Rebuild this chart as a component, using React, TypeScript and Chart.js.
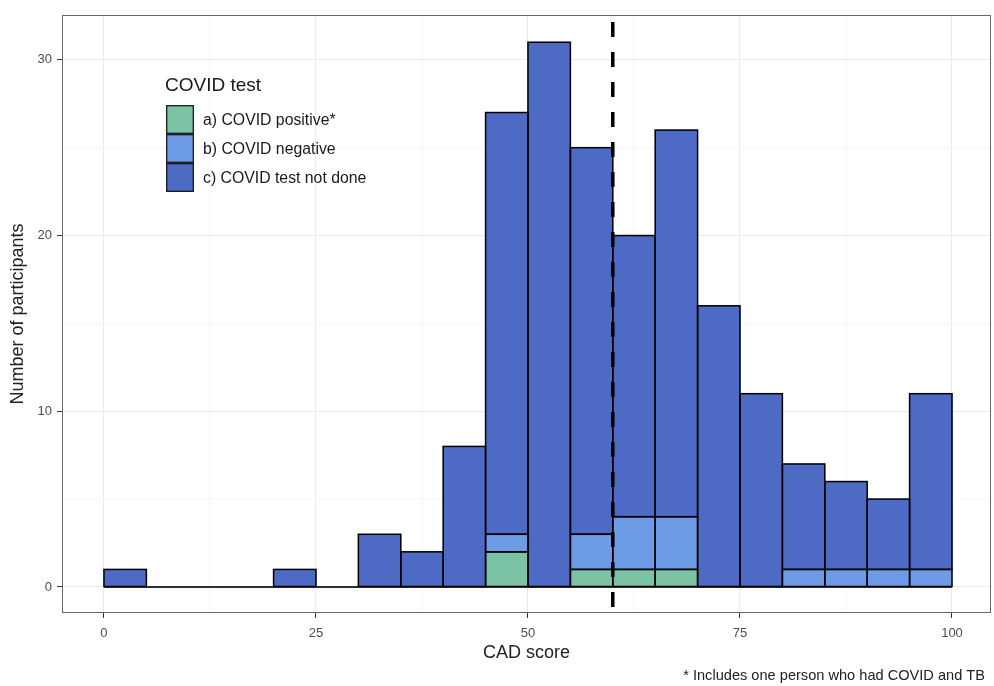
import React, { useEffect, useRef } from 'react';
import { Chart, registerables } from 'chart.js';

Chart.register(...registerables);

// ---- data ----
const binCenters = [2.5, 7.5, 12.5, 17.5, 22.5, 27.5, 32.5, 37.5, 42.5, 47.5, 52.5, 57.5, 62.5, 67.5, 72.5, 77.5, 82.5, 87.5, 92.5, 97.5];
const positive = [0, 0, 0, 0, 0, 0, 0, 0, 0, 2, 0, 1, 1, 1, 0, 0, 0, 0, 0, 0];
const negative = [0, 0, 0, 0, 0, 0, 0, 0, 0, 1, 0, 2, 3, 3, 0, 0, 1, 1, 1, 1];
const notDone = [1, 0, 0, 0, 1, 0, 3, 2, 8, 24, 31, 22, 16, 22, 16, 11, 6, 5, 4, 10];
const seriesLabels = ['a) COVID positive*', 'b) COVID negative', 'c) COVID test not done'];
const xTicks = [0, 25, 50, 75, 100];
const yTicks = [0, 10, 20, 30];
const xMinorGrid = [12.5, 37.5, 62.5, 87.5];
const yMinorGrid = [5, 15, 25];
const cutoffScore = 60;
const histRange = [0, 100];
const legendTitle = 'COVID test';
const xTitle = 'CAD score';
const yTitle = 'Number of participants';
const footnote = '* Includes one person who had COVID and TB';

// ---- styles ----
const FONT = '"Liberation Sans", Arial, Helvetica, sans-serif';
const seriesColors = ['#7cc3a6', '#6e9be6', '#4d6ac4'];

const drawPlugin = {
  id: 'ggDecor',
  beforeDatasetsDraw(chart: any) {
    const { ctx, chartArea, scales } = chart;
    const x = scales.x, y = scales.y;
    ctx.save();
    ctx.strokeStyle = '#f5f5f5';
    ctx.lineWidth = 1;
    xMinorGrid.forEach((v) => {
      const px = x.getPixelForValue(v);
      ctx.beginPath();
      ctx.moveTo(px, chartArea.top);
      ctx.lineTo(px, chartArea.bottom);
      ctx.stroke();
    });
    yMinorGrid.forEach((v) => {
      const py = y.getPixelForValue(v);
      ctx.beginPath();
      ctx.moveTo(chartArea.left, py);
      ctx.lineTo(chartArea.right, py);
      ctx.stroke();
    });
    ctx.restore();
  },
  afterDatasetsDraw(chart: any) {
    const { ctx, chartArea, scales } = chart;
    const x = scales.x, y = scales.y;
    ctx.save();
    // bar outlines
    ctx.strokeStyle = '#000';
    ctx.lineWidth = 1.5;
    ctx.lineJoin = 'miter';
    chart.data.datasets.forEach((_: any, di: number) => {
      const meta = chart.getDatasetMeta(di);
      meta.data.forEach((el: any) => {
        const p = el.getProps(['x', 'y', 'base', 'width'], true);
        const h = p.base - p.y;
        if (Math.abs(h) < 0.01) return;
        ctx.strokeRect(p.x - p.width / 2, p.y, p.width, h);
      });
    });
    // zero-count baseline of the histogram
    const y0 = y.getPixelForValue(0);
    ctx.beginPath();
    ctx.moveTo(x.getPixelForValue(histRange[0]), y0);
    ctx.lineTo(x.getPixelForValue(histRange[1]), y0);
    ctx.stroke();
    // dashed cutoff line
    const vx = x.getPixelForValue(cutoffScore);
    ctx.lineWidth = 3.5;
    ctx.setLineDash([15, 15]);
    ctx.lineDashOffset = 23;
    ctx.beginPath();
    ctx.moveTo(vx, chartArea.top);
    ctx.lineTo(vx, chartArea.bottom);
    ctx.stroke();
    ctx.setLineDash([]);
    // panel border
    ctx.strokeStyle = '#666';
    ctx.lineWidth = 1;
    ctx.strokeRect(chartArea.left + 0.5, chartArea.top + 0.5, chartArea.right - chartArea.left - 1, chartArea.bottom - chartArea.top - 1);
    ctx.restore();
  },
  afterDraw(chart: any) {
    const { ctx, chartArea } = chart;
    ctx.save();
    // axis titles
    ctx.fillStyle = '#222';
    ctx.font = `18px ${FONT}`;
    ctx.textAlign = 'center';
    ctx.textBaseline = 'middle';
    ctx.fillText(xTitle, (chartArea.left + chartArea.right) / 2, 653);
    ctx.save();
    ctx.translate(18, (chartArea.top + chartArea.bottom) / 2);
    ctx.rotate(-Math.PI / 2);
    ctx.fillText(yTitle, 0, 0);
    ctx.restore();
    // footnote
    ctx.font = `14.6px ${FONT}`;
    ctx.textAlign = 'right';
    ctx.fillStyle = '#222';
    ctx.fillText(footnote, 985, 676);
    // legend
    ctx.textAlign = 'left';
    ctx.fillStyle = '#1a1a1a';
    ctx.font = `19px ${FONT}`;
    ctx.fillText(legendTitle, 165, 86);
    const keyX = 166, keyW = 28, keyTop = 105, keyH = 29;
    seriesLabels.forEach((lab, i) => {
      const ky = keyTop + i * keyH;
      ctx.fillStyle = seriesColors[i];
      ctx.fillRect(keyX, ky, keyW, keyH);
      ctx.strokeStyle = '#1a1a1a';
      ctx.lineWidth = 1.3;
      ctx.strokeRect(keyX + 0.7, ky + 0.7, keyW - 1.4, keyH - 1.4);
      ctx.fillStyle = '#1a1a1a';
      ctx.font = `15.8px ${FONT}`;
      ctx.fillText(lab, 203, ky + keyH / 2 + 1);
    });
    ctx.restore();
  },
};

export default function App() {
  const canvasRef = useRef<HTMLCanvasElement | null>(null);

  useEffect(() => {
    const canvas = canvasRef.current;
    if (!canvas) return;
    const series = [positive, negative, notDone];
    const chart = new Chart(canvas, {
      type: 'bar',
      data: {
        datasets: series.map((vals, i) => ({
          label: seriesLabels[i],
          data: binCenters.map((c, j) => ({ x: c, y: vals[j] })),
          backgroundColor: seriesColors[i],
          borderWidth: 0,
          barPercentage: 1,
          categoryPercentage: 1,
        })),
      },
      options: {
        animation: false,
        responsive: false,
        maintainAspectRatio: false,
        devicePixelRatio: 1,
        layout: { padding: { left: 0, top: 15, right: 3, bottom: 0 } },
        plugins: {
          legend: { display: false },
          tooltip: { enabled: false },
          title: { display: false },
        },
        scales: {
          x: {
            type: 'linear',
            stacked: true,
            offset: false,
            min: -4.95,
            max: 104.6,
            afterBuildTicks: (s: any) => {
              s.ticks = xTicks.map((v) => ({ value: v }));
            },
            afterFit: (s: any) => {
              s.height = 73;
            },
            grid: { offset: false, color: '#ebebeb', lineWidth: 1, tickColor: '#333', tickLength: 5, drawTicks: true },
            border: { display: false },
            ticks: {
              font: { family: FONT, size: 13 },
              color: '#4d4d4d',
              padding: 8,
              maxRotation: 0,
              autoSkip: false,
              callback: (v: any) => String(v),
            },
          },
          y: {
            type: 'linear',
            stacked: true,
            min: -1.48,
            max: 32.55,
            afterBuildTicks: (s: any) => {
              s.ticks = yTicks.map((v) => ({ value: v }));
            },
            afterFit: (s: any) => {
              s.width = 62;
            },
            grid: { color: '#ebebeb', lineWidth: 1, tickColor: '#333', tickLength: 5, drawTicks: true },
            border: { display: false },
            ticks: {
              font: { family: FONT, size: 13 },
              color: '#4d4d4d',
              padding: 5,
              autoSkip: false,
              callback: (v: any) => String(v),
            },
          },
        },
      },
      plugins: [drawPlugin],
    } as any);
    return () => chart.destroy();
  }, []);

  return (
    <div style={{ position: 'absolute', left: 0, top: 0, width: 994, height: 686, background: '#fff' }}>
      <canvas ref={canvasRef} width={994} height={686} style={{ display: 'block', width: 994, height: 686 }} />
    </div>
  );
}
